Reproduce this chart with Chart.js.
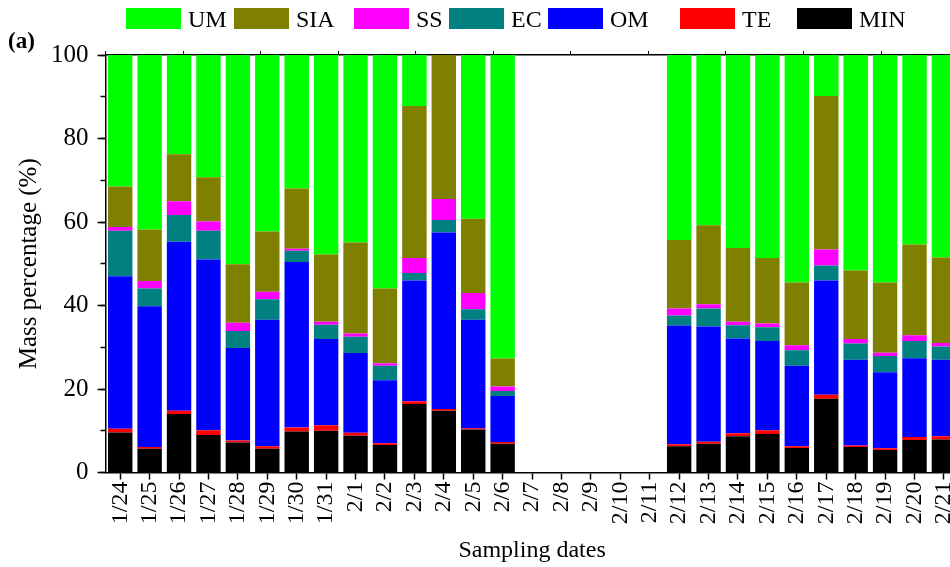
<!DOCTYPE html>
<html>
<head>
<meta charset="utf-8">
<script src="https://cdn.jsdelivr.net/npm/chart.js@4.4.1/dist/chart.umd.min.js"></script>
<style>
  html, body { margin: 0; padding: 0; background: #fff; overflow: hidden; width: 950px; height: 567px; }
  #wrap { width: 975px; height: 567px; }
</style>
</head>
<body>
<div id="wrap"><canvas id="massChart"></canvas></div>
<script>
// datas de amostragem (2/7 a 2/11 sem dados)
const dates = ['1/24', '1/25', '1/26', '1/27', '1/28', '1/29', '1/30', '1/31',
  '2/1', '2/2', '2/3', '2/4', '2/5', '2/6', '2/7', '2/8', '2/9', '2/10', '2/11',
  '2/12', '2/13', '2/14', '2/15', '2/16', '2/17', '2/18', '2/19', '2/20', '2/21'];

const gap = [null, null, null, null, null];

// percentuais de massa por componente (de baixo para cima)
const MIN = [9.6, 5.7, 14.0, 9.0, 7.2, 5.7, 9.8, 10.0, 8.8, 6.6, 16.4, 14.8, 10.3, 6.9, ...gap,
  6.3, 6.9, 8.7, 9.2, 5.9, 17.7, 6.1, 5.4, 7.8, 7.9];
const TE = [0.9, 0.4, 0.8, 1.1, 0.5, 0.6, 1.0, 1.3, 0.7, 0.4, 0.7, 0.4, 0.3, 0.4, ...gap,
  0.5, 0.5, 0.7, 0.9, 0.4, 0.9, 0.4, 0.4, 0.7, 0.8];
const OM = [36.5, 33.7, 40.5, 40.9, 22.1, 30.3, 39.6, 20.7, 19.1, 15.1, 28.9, 42.3, 26.0, 11.0, ...gap,
  28.4, 27.6, 22.7, 21.4, 19.3, 27.4, 20.5, 18.2, 18.9, 18.3];
const EC = [10.9, 4.3, 6.4, 6.9, 4.1, 4.9, 2.7, 3.4, 3.9, 3.5, 1.8, 3.0, 2.5, 1.2, ...gap,
  2.4, 4.3, 3.2, 3.3, 3.7, 3.6, 3.9, 3.9, 4.1, 3.2];
const SS = [0.9, 1.8, 3.3, 2.2, 2.0, 1.8, 0.5, 0.7, 0.8, 0.6, 3.6, 5.0, 3.9, 1.1, ...gap,
  1.7, 1.0, 0.8, 0.9, 1.2, 3.8, 1.1, 0.8, 1.4, 0.8];
const SIA = [9.7, 12.3, 11.2, 10.6, 14.0, 14.4, 14.4, 16.1, 21.8, 17.9, 36.4, 34.5, 17.8, 6.7, ...gap,
  16.4, 18.9, 17.7, 15.7, 15.0, 36.8, 16.4, 16.8, 21.7, 20.5];
const UM = [31.5, 41.8, 23.8, 29.3, 50.1, 42.3, 32.0, 47.8, 44.9, 55.9, 12.2, 0, 39.2, 72.7, ...gap,
  44.3, 40.8, 46.2, 48.6, 54.5, 9.8, 51.6, 54.5, 45.4, 48.5];

const yTicks = [0, 20, 40, 60, 80, 100];

const serif = "'Liberation Serif', 'Times New Roman', serif";
Chart.defaults.font.family = serif;
Chart.defaults.color = '#000';

// legenda desenhada à mão, no estilo do Origin
const legendPlugin = {
  id: 'originLegend',
  afterDraw(chart) {
    const c = chart.ctx;
    const xs = [126, 234, 354, 449, 548, 680, 797];
    const sets = chart.data.datasets.slice().reverse();
    c.save();
    c.font = '24px ' + serif;
    c.textBaseline = 'alphabetic';
    sets.forEach((ds, i) => {
      c.fillStyle = ds.backgroundColor;
      c.fillRect(xs[i], 8, 55, 21);
      c.fillStyle = '#000';
      c.fillText(ds.label, xs[i] + 62, 27);
    });
    c.font = 'bold 23px ' + serif;
    c.fillText('(a)', 8, 48);
    c.restore();
  }
};

const mk = (label, data, color) => ({ label, data, backgroundColor: color, borderWidth: 0 });

new Chart(document.getElementById('massChart').getContext('2d'), {
  type: 'bar',
  data: {
    labels: dates,
    datasets: [
      mk('MIN', MIN, '#000000'),
      mk('TE', TE, '#FF0000'),
      mk('OM', OM, '#0000FF'),
      mk('EC', EC, '#008080'),
      mk('SS', SS, '#FF00FF'),
      mk('SIA', SIA, '#808000'),
      mk('UM', UM, '#00FF00')
    ]
  },
  options: {
    responsive: true,
    maintainAspectRatio: false,
    animation: false,
    datasets: { bar: { barPercentage: 0.83, categoryPercentage: 1 } },
    layout: { padding: { top: 55, left: 12, right: 0, bottom: 2 } },
    plugins: { legend: { display: false }, tooltip: { enabled: false } },
    scales: {
      x: {
        stacked: true,
        grid: { drawOnChartArea: false, offset: false, tickLength: 7, tickColor: '#000', tickWidth: 1.5 },
        border: { color: '#000', width: 1.5 },
        ticks: { autoSkip: false, minRotation: 90, maxRotation: 90, padding: 2, font: { size: 24 } },
        title: { display: true, text: 'Sampling dates', font: { size: 24 }, padding: { top: 10, bottom: 0 } }
      },
      x2: {
        type: 'linear', position: 'top', min: 0, max: 10,
        ticks: { display: false, stepSize: 1 },
        grid: { drawOnChartArea: false, tickLength: 4, tickColor: '#000', tickWidth: 1 },
        border: { color: '#000', width: 1.5 },
        afterFit: (s) => { s.height = 0; }
      },
      y: {
        stacked: true, min: 0, max: 100, weight: 1,
        afterBuildTicks: (s) => { s.ticks = yTicks.map(v => ({ value: v })); },
        grid: { drawOnChartArea: false, tickLength: 8, tickColor: '#000', tickWidth: 1.5 },
        border: { color: '#000', width: 1.5 },
        ticks: { padding: 9, font: { size: 25 } },
        title: { display: true, text: 'Mass percentage (%)', font: { size: 25, lineHeight: 1 }, padding: { top: 5, bottom: 0 } }
      },
      y2: {
        type: 'linear', position: 'left', min: 0, max: 100, weight: 0,
        ticks: { display: false, stepSize: 10 },
        grid: { drawOnChartArea: false, tickLength: 5, tickColor: '#000', tickWidth: 1.5 },
        border: { display: false },
        afterFit: (s) => { s.width = 0; }
      }
    }
  },
  plugins: [legendPlugin]
});
</script>
</body>
</html>
